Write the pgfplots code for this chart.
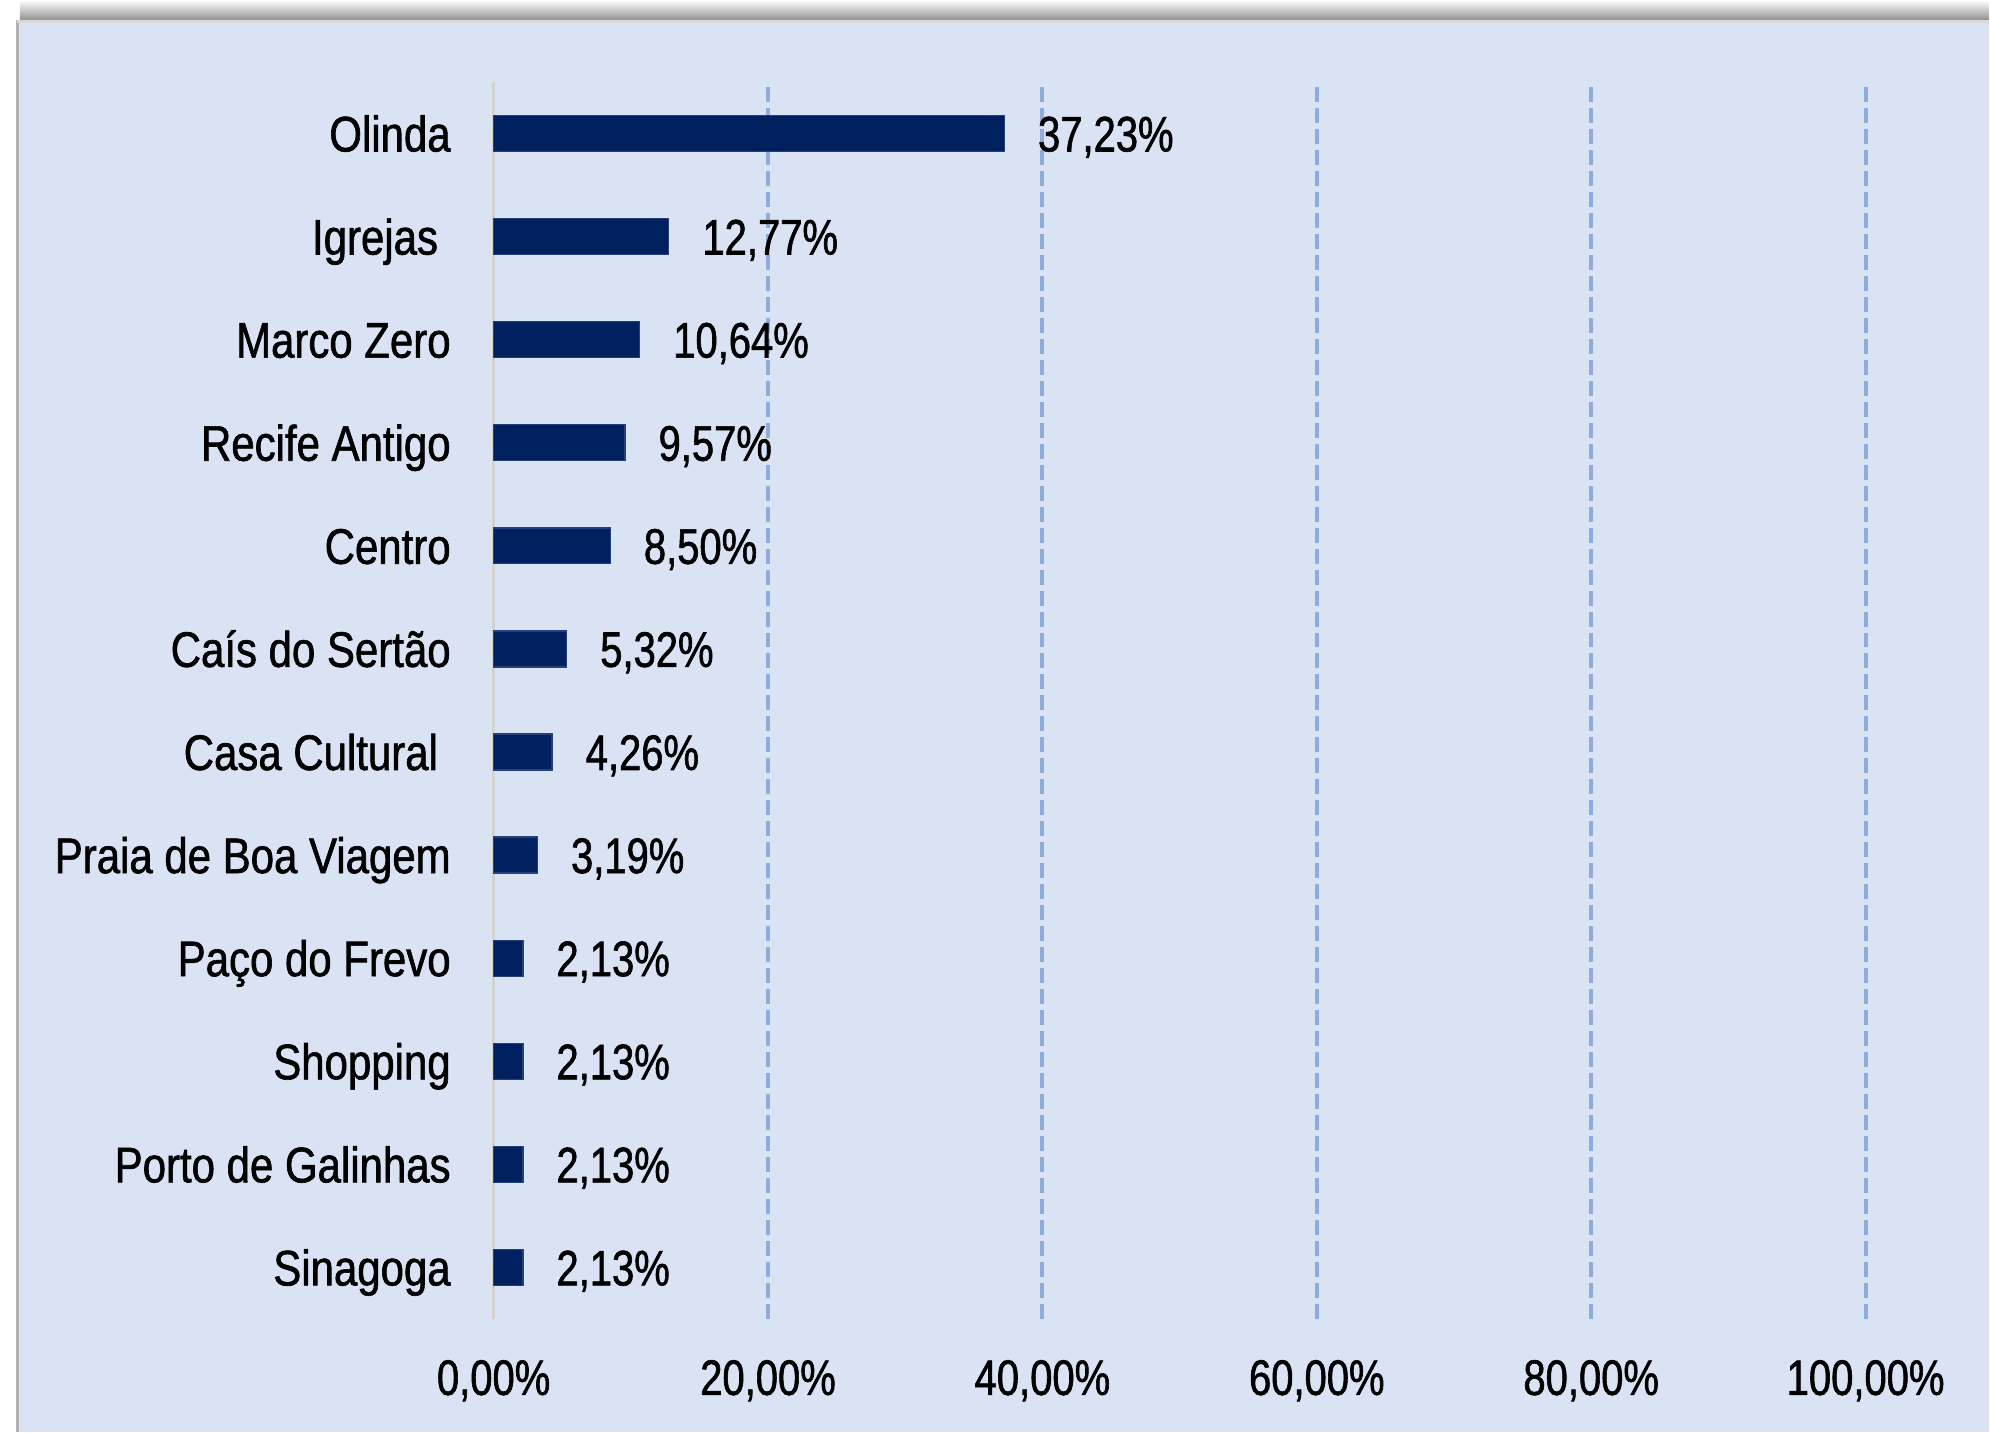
\documentclass[border=0pt]{standalone}
\usepackage{pgfplots}
\pgfplotsset{compat=1.18}
\usepackage{fontspec}
\setmainfont{Liberation Sans}[FakeStretch=0.8, FakeBold=1.2]
\newfontfamily\labfont{Liberation Sans}[FakeStretch=0.84, FakeBold=1.2]
\definecolor{panel}{HTML}{DAE3F3}
\definecolor{barc}{HTML}{002060}
\definecolor{gridc}{HTML}{8FAADC}
\definecolor{axisc}{HTML}{D6D3CE}
\begin{document}
\begin{tikzpicture}
\fill[white] (0,0) rectangle (597pt,429.9pt);
\shade[top color=white, bottom color=black!45] (6pt,423.6pt) rectangle (597pt,429.9pt);
\fill[panel] (5.2pt,0) rectangle (597pt,423.9pt);
\draw[black!30, line width=0.9pt] (5.2pt,0) -- (5.2pt,423.9pt);
\draw[black!15, line width=0.9pt] (5.2pt,423.5pt) -- (597pt,423.5pt);
\begin{axis}[
  at={(148.2pt,33.9pt)}, anchor=south west,
  width=411.9pt, height=371.4pt, scale only axis,
  xmin=0, xmax=100, ymin=-0.5, ymax=11.5,
  axis y line*=left, axis x line*=bottom,
  y axis line style={draw=axisc, line width=0.9pt, -},
  x axis line style={draw=none},
  major tick length=0pt, minor tick length=0pt,
  xbar, bar width=10.8pt,
  xtick={0,20,40,60,80,100},
  xticklabels={{0,00\%},{20,00\%},{40,00\%},{60,00\%},{80,00\%},{100,00\%}},
  minor xtick={20,40,60,80,100},
  xminorgrids, xmajorgrids=false, ymajorgrids=false,
  minor grid style={dashed, gridc, line width=1.2pt, dash pattern=on 4.5pt off 1.8pt},
  ytick={0,1,2,3,4,5,6,7,8,9,10,11},
  yticklabels={Sinagoga, Porto de Galinhas, Shopping, Paço do Frevo, Praia de Boa Viagem, Casa Cultural\hbox to 3.8pt{}, Caís do Sertão, Centro, Recife Antigo, Marco Zero, Igrejas\hbox to 3.8pt{}, Olinda},
  tick label style={font=\fontsize{15}{18}\selectfont, black, inner sep=0pt},
  x tick label style={anchor=base, yshift=-22.8pt},
  y tick label style={anchor=base east, xshift=-12.7pt, yshift=-5.4pt, font=\fontsize{15}{18}\selectfont\labfont},
  nodes near coords,
  point meta=explicit symbolic,
  nodes near coords style={anchor=base west, xshift=9.9pt, yshift=-5.4pt, inner sep=0pt, font=\fontsize{15}{18}\selectfont, black},
  clip=false,
]
\addplot[fill=barc, draw=barc!85!white, line width=0.4pt] coordinates {
(2.13,0) [2,13\%]
(2.13,1) [2,13\%]
(2.13,2) [2,13\%]
(2.13,3) [2,13\%]
(3.19,4) [3,19\%]
(4.26,5) [4,26\%]
(5.32,6) [5,32\%]
(8.50,7) [8,50\%]
(9.57,8) [9,57\%]
(10.64,9) [10,64\%]
(12.77,10) [12,77\%]
(37.23,11) [37,23\%]
};
\end{axis}
\end{tikzpicture}
\end{document}
